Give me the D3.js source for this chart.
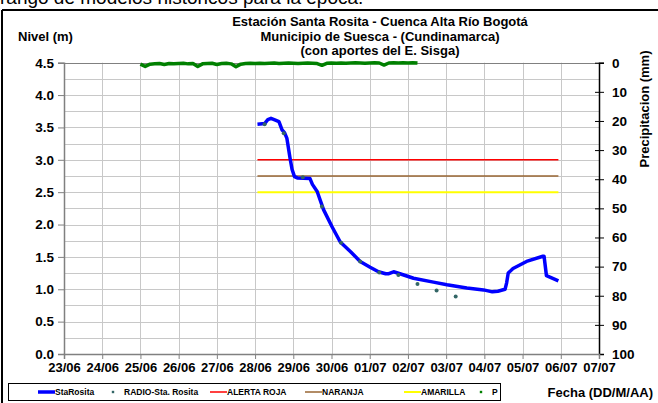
<!DOCTYPE html>
<html>
<head>
<meta charset="utf-8">
<script src="https://cdn.jsdelivr.net/npm/d3@7"></script>
<style>
body { margin: 0; background: #fff; }
svg text { font-family: Arial, "Liberation Sans", sans-serif; font-weight: bold; fill: #000; }
</style>
</head>
<body>
<svg id="chart" width="658" height="403"></svg>
<script>
// nivel StaRosita (m)
var nivelFechas = ["28/06 01:30","28/06 06:00","28/06 08:00","28/06 10:00","28/06 12:00","28/06 15:00","28/06 17:00","28/06 18:30","28/06 20:00","28/06 22:00",
  "28/06 23:15","29/06 00:45","29/06 02:30","29/06 10:30","29/06 12:00","29/06 15:00","29/06 19:00","30/06 00:15","30/06 05:30","30/06 12:00",
  "30/06 18:00","01/07 00:15","01/07 05:30","01/07 10:00","01/07 12:00","01/07 15:00","01/07 19:00","02/07 03:30","02/07 16:00","03/07 00:30",
  "03/07 13:00","03/07 23:30","04/07 05:00","04/07 08:30","04/07 13:00","04/07 14:00","04/07 15:00","04/07 18:00","05/07 02:30","05/07 12:45",
  "05/07 13:30","05/07 15:00","05/07 22:30"];
var nivelValores = [3.55,3.56,3.62,3.64,3.62,3.59,3.46,3.42,3.33,3.02,
  2.85,2.74,2.72,2.71,2.62,2.51,2.23,1.97,1.73,1.58,
  1.43,1.34,1.27,1.24,1.24,1.27,1.24,1.17,1.11,1.07,
  1.02,0.99,0.96,0.97,1.00,1.10,1.25,1.32,1.43,1.51,
  1.51,1.21,1.13];

// lecturas radio
var radioFechas = ["28/06 06:00","28/06 18:00","29/06 06:00","29/06 18:00","30/06 06:00","30/06 18:00","01/07 06:00","01/07 18:00","02/07 06:00","02/07 18:00","03/07 06:00"];
var radioValores = [3.55,3.41,2.73,2.28,1.72,1.43,1.26,1.22,1.08,0.98,0.89];

// umbrales de alerta
var alertas = ["ALERTA ROJA","NARANJA","AMARILLA"];
var alertaValores = [3.0,2.75,2.5];
var alertaColores = ["#ff0000","#996633","#ffff00"];

// precipitacion (mm) cada 3 horas desde 25/06 00:00
var pInicio = "25/06 00:00";
var pValores = [0.5,1.3,0.5,0.4,0.3,0.6,0.3,0.4,0.3,0.2,
  0.4,0.3,1.3,0.4,0.3,0.2,0.6,0.3,0.2,0.4,
  1.4,0.5,0.3,0.2,0.3,0.2,0.3,0.2,0.1,0.3,
  0.2,0.1,0.2,0.3,0.2,0.1,0.2,0.3,0.9,0.2,
  0.1,0.2,0.1,0.2,0.1,0.0,0.1,0.2,0.1,0.0,
  0.1,0.8,0.1,0.0,0.1,0.0,0.1,0.0,0.1];

var nivelTicks = [0,0.5,1.0,1.5,2.0,2.5,3.0,3.5,4.0,4.5];
var precipTicks = [0,10,20,30,40,50,60,70,80,90,100];
var fechaInicio = "23/06 00:00", fechaFin = "07/07 00:00";

var titulo = ["Estación Santa Rosita - Cuenca Alta Río Bogotá","Municipio de Suesca - (Cundinamarca)","(con aportes del  E. Sisga)"];

var parse = d3.utcParse("%d/%m %H:%M");
var svg = d3.select("#chart");

var pLeft = 64, pRight = 599, pTop = 62.7, pBottom = 354;

var x = d3.scaleUtc().domain([parse(fechaInicio), parse(fechaFin)]).range([pLeft, pRight]);
var y = d3.scaleLinear().domain([0, 4.5]).range([pBottom, pTop]);
var y2 = d3.scaleLinear().domain([0, 100]).range([pTop, pBottom]);

// texto cortado arriba
svg.append("text").attr("x", 0).attr("y", 4)
  .style("font-weight", "normal").style("font-size", "19px")
  .text("rango de modelos historicos para la época.");

// marco del grafico
svg.append("line").attr("x1", 2).attr("x2", 658).attr("y1", 10).attr("y2", 10)
  .attr("stroke", "#000").attr("stroke-width", 2);
svg.append("line").attr("x1", 2).attr("x2", 2).attr("y1", 10).attr("y2", 403)
  .attr("stroke", "#000").attr("stroke-width", 2);

// rejilla
var grid = svg.append("g").attr("stroke", "#c8c8c8").attr("stroke-width", 1);
grid.selectAll("line.h").data(d3.range(0.25, 4.5, 0.25)).enter().append("line")
  .attr("x1", pLeft).attr("x2", pRight)
  .attr("y1", function(d) { return Math.round(y(d)) + 0.5; })
  .attr("y2", function(d) { return Math.round(y(d)) + 0.5; });
grid.selectAll("line.v").data(x.ticks(d3.utcDay.every(1)).slice(1, -1)).enter().append("line")
  .attr("y1", pTop).attr("y2", pBottom)
  .attr("x1", function(d) { return Math.round(x(d)) + 0.5; })
  .attr("x2", function(d) { return Math.round(x(d)) + 0.5; });
svg.append("line").attr("x1", pLeft).attr("x2", pRight).attr("y1", Math.round(pTop) + 0.5).attr("y2", Math.round(pTop) + 0.5)
  .attr("stroke", "#808080");

// ejes
var ejeY = svg.append("g").attr("transform", "translate(" + pLeft + ",0)")
  .call(d3.axisLeft(y).tickValues(nivelTicks).tickFormat(d3.format(".1f")).tickSize(6).tickPadding(4));
var ejeY2 = svg.append("g").attr("transform", "translate(" + pRight + ",0)")
  .call(d3.axisRight(y2).tickValues(precipTicks).tickSize(5).tickPadding(8));
var ejeX = svg.append("g").attr("transform", "translate(0," + pBottom + ")")
  .call(d3.axisBottom(x).ticks(d3.utcDay.every(1)).tickFormat(d3.utcFormat("%d/%m")).tickSize(5).tickPadding(4));

[ejeY, ejeX].forEach(function(g) {
  g.select(".domain").attr("stroke", "#808080").attr("stroke-width", 1.5);
  g.selectAll(".tick line").attr("stroke", "#808080");
});
ejeY2.select(".domain").attr("stroke", "#000").attr("stroke-width", 1.5);
ejeY2.selectAll(".tick line").attr("stroke", "#000").attr("x1", -4);
svg.selectAll(".tick text").style("font-size", "13.5px").style("font-family", "Arial, 'Liberation Sans', sans-serif").style("font-weight", "bold").attr("fill", "#000");
ejeX.selectAll(".tick text").style("font-size", "13px");

// precipitacion
var pData = pValores.map(function(v, i) { return { t: d3.utcHour.offset(parse(pInicio), i * 3), v: v }; });
svg.append("path").datum(pData)
  .attr("fill", "none").attr("stroke", "#008000").attr("stroke-width", 3.5).attr("stroke-linejoin", "round")
  .attr("d", d3.line().x(function(d) { return x(d.t); }).y(function(d) { return y2(d.v); }));

// alertas
var nivelInicio = parse(nivelFechas[0]), nivelFin = parse(nivelFechas[nivelFechas.length - 1]);
alertas.forEach(function(a, i) {
  svg.append("line")
    .attr("x1", x(nivelInicio)).attr("x2", x(nivelFin))
    .attr("y1", y(alertaValores[i])).attr("y2", y(alertaValores[i]))
    .attr("stroke", alertaColores[i]).attr("stroke-width", i == 2 ? 2 : 1.5);
});

// nivel
var nivelData = nivelFechas.map(function(f, i) { return { t: parse(f), v: nivelValores[i] }; });
svg.append("path").datum(nivelData)
  .attr("fill", "none").attr("stroke", "#0000ff").attr("stroke-width", 3.5).attr("stroke-linejoin", "round")
  .attr("d", d3.line().x(function(d) { return x(d.t); }).y(function(d) { return y(d.v); }));

// radio
svg.selectAll("circle.radio").data(radioFechas).enter().append("circle")
  .attr("cx", function(d) { return x(parse(d)); })
  .attr("cy", function(d, i) { return y(radioValores[i]); })
  .attr("r", 2).attr("fill", "#336666");

// titulos
svg.selectAll("text.titulo").data(titulo).enter().append("text")
  .attr("x", 380).attr("y", function(d, i) { return 26 + i * 14.5; })
  .attr("text-anchor", "middle").style("font-size", "13px")
  .text(function(d) { return d; });
svg.append("text").attr("x", 18).attr("y", 41).style("font-size", "13px").text("Nivel (m)");
svg.append("text").attr("transform", "translate(649,109) rotate(-90)")
  .attr("text-anchor", "middle").style("font-size", "13px").text("Precipitacion (mm)");
svg.append("text").attr("x", 653).attr("y", 397).attr("text-anchor", "end")
  .style("font-size", "13px").text("Fecha (DD/M/AA)");

// leyenda
var ley = svg.append("g");
ley.append("rect").attr("x", 8.5).attr("y", 383.5).attr("width", 492).attr("height", 17)
  .attr("fill", "#fff").attr("stroke", "#000");
var items = [
  { n: "StaRosita", tipo: "linea", c: "#0000ff", w: 3.5, x: 38 },
  { n: "RADIO-Sta. Rosita", tipo: "punto", c: "#336666", x: 113 },
  { n: alertas[0], tipo: "linea", c: alertaColores[0], w: 1.5, x: 210 },
  { n: alertas[1], tipo: "linea", c: alertaColores[1], w: 1.5, x: 305 },
  { n: alertas[2], tipo: "linea", c: alertaColores[2], w: 2, x: 404 },
  { n: "P", tipo: "punto", c: "#008000", x: 481 }
];
items.forEach(function(it) {
  var tx;
  if (it.tipo == "linea") {
    ley.append("line").attr("x1", it.x).attr("x2", it.x + 17).attr("y1", 392).attr("y2", 392)
      .attr("stroke", it.c).attr("stroke-width", it.w);
    tx = it.x + 17;
  } else {
    ley.append("rect").attr("x", it.x - 1.2).attr("y", 390.8).attr("width", 2.4).attr("height", 2.4).attr("fill", it.c);
    tx = it.x + 11;
  }
  ley.append("text").attr("x", tx).attr("y", 395).style("font-size", "8.5px").text(it.n);
});
</script>
</body>
</html>
